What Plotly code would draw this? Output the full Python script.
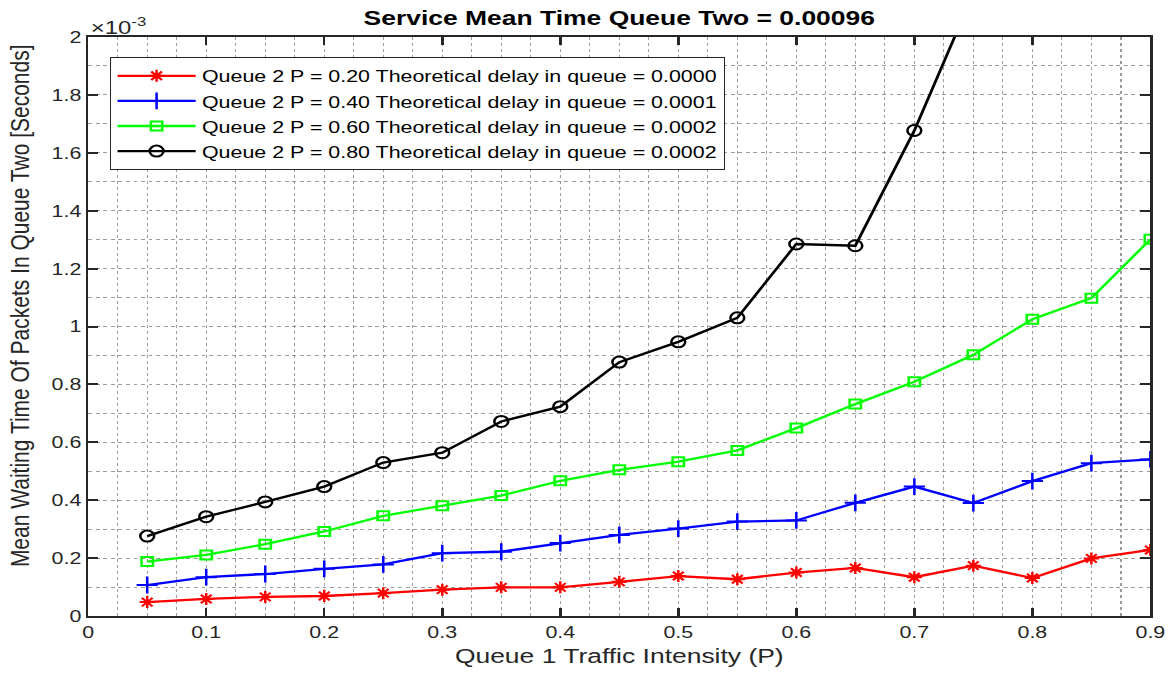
import plotly.graph_objects as go

# Queue 1 traffic intensity (P)
traffic = [0.05, 0.10, 0.15, 0.20, 0.25, 0.30, 0.35, 0.40, 0.45,
           0.50, 0.55, 0.60, 0.65, 0.70, 0.75, 0.80, 0.85, 0.90]

# Mean waiting time in queue two, in units of 1e-3 seconds
wait_p020 = [0.048, 0.059, 0.066, 0.069, 0.079, 0.091, 0.099, 0.099, 0.118,
             0.138, 0.127, 0.150, 0.166, 0.134, 0.174, 0.131, 0.199, 0.228]
wait_p040 = [0.107, 0.134, 0.145, 0.163, 0.178, 0.217, 0.222, 0.252, 0.280,
             0.302, 0.326, 0.330, 0.391, 0.447, 0.390, 0.466, 0.528, 0.541]
wait_p060 = [0.188, 0.211, 0.248, 0.292, 0.346, 0.381, 0.416, 0.467, 0.505,
             0.533, 0.572, 0.649, 0.732, 0.809, 0.902, 1.025, 1.098, 1.301]
wait_p080 = [0.276, 0.343, 0.394, 0.447, 0.530, 0.564, 0.672, 0.723, 0.877,
             0.947, 1.030, 1.285, 1.279, 1.677, 2.150, 2.700, 3.400, 4.300]

labels = [
    "Queue 2 P = 0.20 Theoretical delay in queue = 0.0000",
    "Queue 2 P = 0.40 Theoretical delay in queue = 0.0001",
    "Queue 2 P = 0.60 Theoretical delay in queue = 0.0002",
    "Queue 2 P = 0.80 Theoretical delay in queue = 0.0002",
]

title_text = "Service Mean Time Queue Two = 0.00096"
x_title = "Queue 1 Traffic Intensity (P)"
y_title = "Mean Waiting Time Of Packets In Queue Two [Seconds]"

series = [
    (wait_p020, "#ff0000", "asterisk-open", 10),
    (wait_p040, "#0000ff", "cross-thin-open", 12),
    (wait_p060, "#00ff00", "square-open", 9),
    (wait_p080, "#000000", "circle-open", 11),
]

FONT = "Liberation Sans, Arial, Helvetica, sans-serif"
AXIS_COLOR = "#262626"
GRID_COLOR = "rgba(130,130,130,0.8)"

# The figure is laid out on a narrower canvas and widened on the page,
# giving the horizontally stretched look of the exported figure.
PAGE_W, PAGE_H = 1168, 675
STRETCH = 1.26
FIG_W = round(PAGE_W / STRETCH)
MARGIN_L, PLOT_R = 70, 913
PLOT_W = PLOT_R - MARGIN_L

fig = go.Figure()
for (vals, color, sym, size), name in zip(series, labels):
    fig.add_trace(go.Scatter(
        x=traffic, y=vals, name=name, mode="lines+markers",
        line=dict(color=color, width=2.3),
        marker=dict(symbol=sym, size=size, color=color,
                    line=dict(color=color, width=2)),
    ))

axis_common = dict(
    showgrid=True, gridcolor=GRID_COLOR, gridwidth=1, griddash="dot",
    showline=True, linecolor=AXIS_COLOR, linewidth=2, mirror="allticks",
    ticks="inside", ticklen=8, tickwidth=2, tickcolor=AXIS_COLOR,
    zeroline=False, automargin=False,
    tickfont=dict(family=FONT, size=17, color=AXIS_COLOR),
)

fig.update_xaxes(
    range=[0, 0.9], dtick=0.1, tick0=0, tickformat="~g",
    minor=dict(dtick=0.025, showgrid=True, gridcolor=GRID_COLOR,
               griddash="dot", gridwidth=1, ticks=""),
    title=dict(text=x_title, font=dict(family=FONT, size=21, color=AXIS_COLOR),
               standoff=7),
    **axis_common,
)
fig.update_yaxes(
    range=[0, 2], dtick=0.2, tick0=0, tickformat="~g",
    minor=dict(dtick=0.1, showgrid=True, gridcolor=GRID_COLOR,
               griddash="dot", gridwidth=1, ticks=""),
    **axis_common,
)

fig.update_layout(
    width=FIG_W, height=PAGE_H,
    margin=dict(l=MARGIN_L, r=FIG_W - PLOT_R, t=37, b=59),
    paper_bgcolor="white", plot_bgcolor="white",
    title=dict(text="<b>" + title_text + "</b>", xref="paper", x=0.5,
               xanchor="center", y=1 - 18 / PAGE_H, yanchor="middle",
               font=dict(family=FONT, size=21, color="#000000")),
    legend=dict(x=0.0205, y=0.965, xanchor="left", yanchor="top",
                bgcolor="white", bordercolor=AXIS_COLOR, borderwidth=1,
                font=dict(family=FONT, size=17, color="#000000"),
                tracegroupgap=0, itemwidth=62),
    showlegend=True,
    annotations=[
        dict(text="×10<sup>-3</sup>", xref="paper", yref="paper", x=0, y=1,
             xanchor="left", yanchor="bottom", showarrow=False, yshift=-3,
             font=dict(family=FONT, size=19, color=AXIS_COLOR)),
        dict(text=y_title, xref="paper", yref="paper",
             x=(15 - MARGIN_L) / PLOT_W, y=0.535, xanchor="center",
             yanchor="middle", textangle=-90, showarrow=False,
             font=dict(family=FONT, size=21, color=AXIS_COLOR)),
    ],
)

stretch_js = (
    "var gd = document.getElementById('{plot_id}');"
    "gd.style.transformOrigin = '0 0';"
    "gd.style.transform = 'scaleX(%s)';"
    "document.body.style.margin = '0';"
    "document.body.style.overflow = 'hidden';" % STRETCH
)

fig.write_html("out.html", post_script=stretch_js)
